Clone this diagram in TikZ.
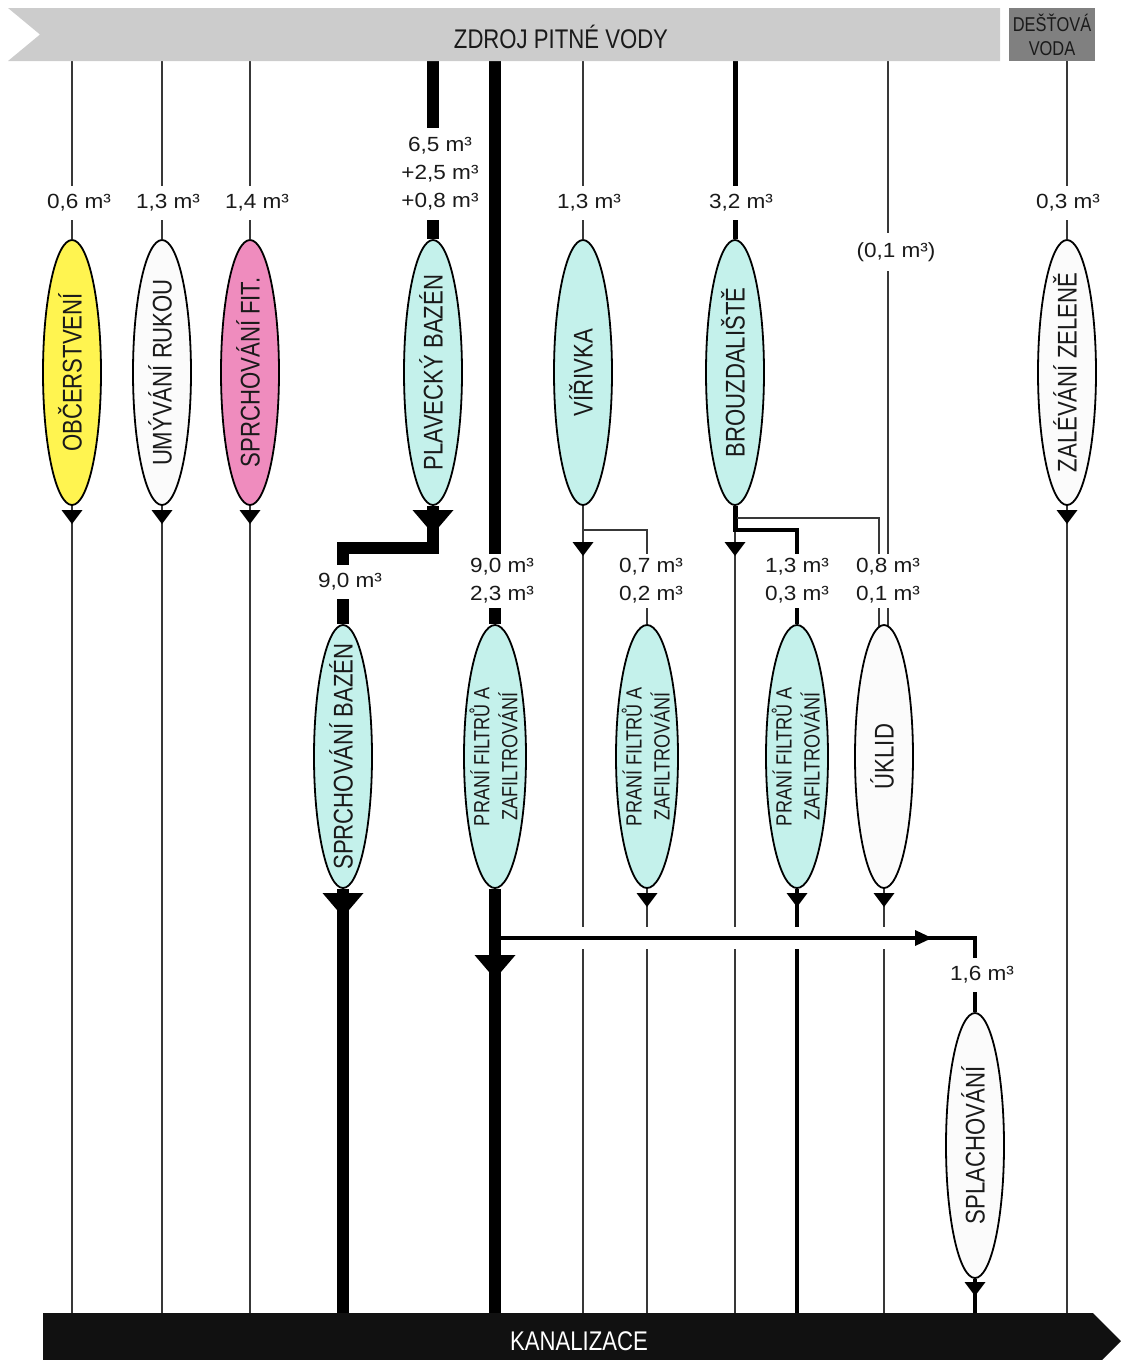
\documentclass[tikz,border=0pt]{standalone}
\usepackage{fontspec}
\setmainfont{Liberation Sans}
\newfontfamily\narrowsans{Liberation Sans}[FakeStretch=0.82]
\newfontfamily\numsans{Liberation Sans}[FakeStretch=1.1]
\usetikzlibrary{shapes.geometric}
\pgfdeclarelayer{background}
\pgfsetlayers{background,main}

\definecolor{srcgray}{HTML}{CCCCCC}
\definecolor{raingray}{HTML}{808080}
\definecolor{sewer}{HTML}{111111}
\definecolor{pipe}{HTML}{383838}
\definecolor{inkdark}{HTML}{1A1A1A}
\definecolor{snackyellow}{HTML}{FFF450}
\definecolor{showerpink}{HTML}{EF8CBE}
\definecolor{poolcyan}{HTML}{C4F1EB}
\definecolor{plainwhite}{HTML}{FBFBFB}

% rotated ellipse caption, takes no room so the ellipse keeps its size
\newcommand\etext[1]{\smash{\makebox[0pt]{\raisebox{-.36em}{#1}}}}
\newcommand\etwo[2]{\smash{\makebox[0pt]{\raisebox{-.36em}{\begin{tabular}{@{}c@{}}#1\\#2\end{tabular}}}}}

\tikzset{
  use/.style={ellipse, draw=black, line width=1.8pt, inner sep=0pt, rotate=90,
    minimum width=265pt, minimum height=58pt, text=inkdark,
    font=\narrowsans\fontsize{27}{32}\selectfont},
  filt/.style={use, fill=poolcyan, minimum width=263pt, minimum height=62pt,
    font=\narrowsans\fontsize{22}{28}\selectfont},
  qty/.style={fill=white, inner xsep=3pt, inner ysep=9pt, align=center, text=inkdark,
    font=\numsans\fontsize{20.5}{28}\selectfont},
  thinpipe/.style={draw=pipe, line width=2.2pt},
  midpipe/.style={draw=black, line width=4.2pt},
  heavypipe/.style={draw=black, line width=11.5pt},
  dtri/.pic={\fill[black] (-10.5,0) -- (10.5,0) -- (0,14) -- cycle;},
  btri/.pic={\fill[black] (-20.5,0) -- (20.5,0) -- (0,24) -- cycle;},
  rtri/.pic={\fill[black] (0,-8) -- (17,0) -- (0,8) -- cycle;}
}

\begin{document}
\begin{tikzpicture}[x=1pt,y=-1pt]
\useasboundingbox (0,0) rectangle (1121,1360);

% supply banners
\fill[srcgray] (8,8) -- (1000,8) -- (1000,61) -- (8,61) -- (40,34.5) -- cycle;
\node[text=inkdark, font=\narrowsans\fontsize{27}{32}\selectfont] (src) at (561,37) {ZDROJ PITNÉ VODY};
\node[fill=raingray, minimum width=86pt, minimum height=53pt, inner sep=0pt, align=center,
  text=inkdark, font=\narrowsans\fontsize{20}{24}\selectfont] (rain) at (1052,34.5) {DEŠŤOVÁ\\VODA};

% sewer banner
\fill[sewer] (43,1313) -- (1093,1313) -- (1121,1341) -- (1093,1369) -- (43,1369) -- cycle;
\node[text=white, font=\narrowsans\fontsize{27}{32}\selectfont] (sew) at (579,1341) {KANALIZACE};

% consumers, first row
\node[use, fill=snackyellow] (obc) at (72,372.5) {\etext{OBČERSTVENÍ}};
\node[use, fill=plainwhite] (umy) at (162,372.5) {\etext{UMÝVÁNÍ RUKOU}};
\node[use, fill=showerpink] (sfit) at (250,372.5) {\etext{SPRCHOVÁNÍ FIT.}};
\node[use, fill=poolcyan] (plav) at (433,372.5) {\etext{PLAVECKÝ BAZÉN}};
\node[use, fill=poolcyan] (vir) at (583,372.5) {\etext{VÍŘIVKA}};
\node[use, fill=poolcyan] (brz) at (735,372.5) {\etext{BROUZDALIŠTĚ}};
\node[use, fill=plainwhite] (zal) at (1067,372.5) {\etext{ZALÉVÁNÍ ZELENĚ}};

% consumers, second row
\node[use, fill=poolcyan, minimum width=263pt] (sbaz) at (343,756.5) {\etext{SPRCHOVÁNÍ BAZÉN}};
\node[filt] (pf1) at (495,756.5) {\etwo{PRANÍ FILTRŮ A}{ZAFILTROVÁNÍ}};
\node[filt] (pf2) at (647,756.5) {\etwo{PRANÍ FILTRŮ A}{ZAFILTROVÁNÍ}};
\node[filt] (pf3) at (797,756.5) {\etwo{PRANÍ FILTRŮ A}{ZAFILTROVÁNÍ}};
\node[use, fill=plainwhite, minimum width=263pt] (ukl) at (884,756.5) {\etext{ÚKLID}};
\node[use, fill=plainwhite] (spl) at (975,1145.5) {\etext{SPLACHOVÁNÍ}};

% taps on the supply banners
\coordinate (s1) at (72,61);   \coordinate (s2) at (162,61);  \coordinate (s3) at (250,61);
\coordinate (s4) at (433,61);  \coordinate (s5) at (495,61);  \coordinate (s6) at (583,61);
\coordinate (s8) at (735,61);  \coordinate (s10) at (888,61); \coordinate (s12) at (1067,61);
% outlets into the sewer
\coordinate (d1) at (72,1313);  \coordinate (d2) at (162,1313); \coordinate (d3) at (250,1313);
\coordinate (dsb) at (343,1313); \coordinate (d5) at (495,1313); \coordinate (d6) at (583,1313);
\coordinate (d7) at (647,1313); \coordinate (d8) at (735,1313); \coordinate (d9) at (797,1313);
\coordinate (d10) at (884,1313); \coordinate (d11) at (975,1313); \coordinate (d12) at (1067,1313);
% junctions
\coordinate (k1) at (433,548);  \coordinate (k2) at (343,548);
\coordinate (b1) at (583,530);  \coordinate (b1r) at (647,530);
\coordinate (b2) at (735,532);  \coordinate (b2a) at (733,530); \coordinate (b2r) at (797,530);
\coordinate (b3) at (737,518);  \coordinate (b3r) at (879,518);
\coordinate (j1) at (500,938);  \coordinate (j2) at (975,938);

\begin{pgfonlayer}{background}
  % supply lines
  \draw[thinpipe] (s1) -- (obc);
  \draw[thinpipe] (s2) -- (umy);
  \draw[thinpipe] (s3) -- (sfit);
  \draw[heavypipe] (s4) -- (plav);
  \draw[heavypipe] (s5) -- (pf1);
  \draw[thinpipe] (s6) -- (vir);
  \draw[draw=black, line width=5pt] (s8) -- (brz);
  \draw[thinpipe] (s10) -- (s10 |- ukl);
  \draw[thinpipe] (s12) -- (zal);
  % reuse branches
  \draw[heavypipe] (plav) -- (k1) -- (k2) -- (sbaz);
  \draw[thinpipe] (b1) -- (b1r) -- (pf2);
  \draw[draw=black, line width=5pt] (brz) -- (b2);
  \draw[midpipe] (b2a) -- (b2r) -- (pf3);
  \draw[thinpipe] (b3) -- (b3r) -- (b3r |- ukl);
  % drains
  \draw[thinpipe] (obc) -- (d1);
  \draw[thinpipe] (umy) -- (d2);
  \draw[thinpipe] (sfit) -- (d3);
  \draw[heavypipe] (sbaz) -- (dsb);
  \draw[heavypipe] (pf1) -- (d5);
  \draw[thinpipe] (vir) -- (d6);
  \draw[thinpipe] (pf2) -- (d7);
  \draw[thinpipe] (b2) -- (d8);
  \draw[midpipe] (pf3) -- (d9);
  \draw[thinpipe] (ukl) -- (d10);
  \draw[midpipe] (spl) -- (d11);
  \draw[thinpipe] (zal) -- (d12);
\end{pgfonlayer}

% flow arrows
\foreach \p in {(72,510),(162,510),(250,510),(1067,510),(583,542),(735,542),
                (647,893),(797,893),(884,893),(975,1282)}
  \pic at \p {dtri};
\pic at (433,510) {btri};
\pic at (343,893) {btri};
\pic at (495,955) {btri};

% filtered water to flushing, crossing the other lines
\draw[white, line width=22pt] (506,938) -- (962,938);
\draw[midpipe] (j1) -- (j2) -- (spl);
\pic at (915,938) {rtri};

% volumes
\node[qty] (q1) at (79,203) {0,6 m³};
\node[qty] (q2) at (168,203) {1,3 m³};
\node[qty] (q3) at (257,203) {1,4 m³};
\node[qty, inner ysep=10pt] (q4) at (440,174) {6,5 m³\\+2,5 m³\\+0,8 m³};
\node[qty] (q6) at (589,203) {1,3 m³};
\node[qty] (q8) at (741,203) {3,2 m³};
\node[qty] (q10) at (896,252) {(0,1 m³)};
\node[qty] (q12) at (1068,203) {0,3 m³};
\node[qty] (qsb) at (350,582) {9,0 m³};
\node[qty, inner ysep=5pt] (q5) at (502,581) {9,0 m³\\2,3 m³};
\node[qty, inner ysep=5pt] (q7) at (651,581) {0,7 m³\\0,2 m³};
\node[qty, inner ysep=5pt] (q9) at (797,581) {1,3 m³\\0,3 m³};
\node[qty, inner ysep=5pt] (q11) at (888,581) {0,8 m³\\0,1 m³};
\node[qty] (qs) at (982,975) {1,6 m³};
\end{tikzpicture}
\end{document}
